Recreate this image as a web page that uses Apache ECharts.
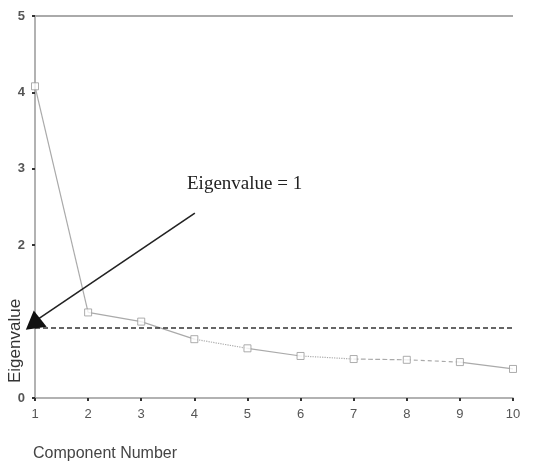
<!DOCTYPE html>
<html>
<head>
<meta charset="utf-8">
<script src="https://cdn.jsdelivr.net/npm/echarts@6/dist/echarts.min.js"></script>
<style>html,body{margin:0;padding:0;background:#fff}#c{width:533px;height:465px}</style>
</head>
<body>
<div id="c"></div>
<script>
// Data
var components = [1, 2, 3, 4, 5, 6, 7, 8, 9, 10];
var eigenvalues = [4.08, 1.12, 1.00, 0.77, 0.65, 0.55, 0.51, 0.50, 0.47, 0.38];
var segmentTypes = ['solid', 'solid', 'solid', 'dotted', 'solid', 'dotted', 'dashed', [4, 3], 'solid'];
var yTickLabels = ['0', '', '2', '3', '4', '5'];
var xTickLabels = ['1', '2', '3', '4', '5', '6', '7', '8', '9', '10'];
var cutoffLine = 0.92;
var arrowStart = [4.01, 2.42];
var arrowEnd = [1.05, 1.03];
var annotationText = 'Eigenvalue = 1';

var chart = echarts.init(document.getElementById('c'));
var series = [];
for (var i = 0; i < components.length - 1; i++) {
  series.push({
    type: 'line',
    data: [[components[i], eigenvalues[i]], [components[i + 1], eigenvalues[i + 1]]],
    showSymbol: false,
    symbol: 'none',
    lineStyle: { color: '#aaa', width: 1.2, type: segmentTypes[i] },
    silent: true,
    z: 2
  });
}
series.push({
  type: 'scatter',
  data: components.map(function (c, i) { return [c, eigenvalues[i]]; }),
  symbol: 'rect',
  symbolSize: 7,
  itemStyle: { color: '#fff', borderColor: '#999', borderWidth: 1 },
  z: 3,
  markLine: {
    silent: true,
    symbol: 'none',
    label: { show: false },
    data: [
      { yAxis: 5, lineStyle: { color: '#aaa', width: 2, type: 'solid' } },
      { yAxis: cutoffLine, lineStyle: { color: '#333', width: 1.5, type: [5, 3] } },
      [
        { coord: arrowStart, lineStyle: { color: '#222', width: 1.6, type: 'solid' } },
        { coord: arrowEnd }
      ]
    ]
  },
  markPoint: {
    silent: true,
    data: [{ coord: [1.0, 1.03], symbol: 'triangle', symbolSize: [21, 18], symbolRotate: 8, itemStyle: { color: '#111' }, label: { show: false } }]
  }
});

chart.setOption({
  animation: false,
  grid: { left: 35, right: 20, top: 16, bottom: 67 },
  xAxis: {
    type: 'value', min: 1, max: 10, interval: 1,
    axisLine: { lineStyle: { color: '#999', width: 1.5 } },
    axisTick: { show: true, length: 3, lineStyle: { color: '#333', width: 2 } },
    axisLabel: { color: '#555', fontFamily: 'Liberation Sans', fontSize: 13, margin: 10,
      formatter: function (v) { return xTickLabels[v - 1]; } },
    splitLine: { show: false }
  },
  yAxis: {
    type: 'value', min: 0, max: 5, interval: 1,
    axisLine: { show: true, lineStyle: { color: '#999', width: 1.5 } },
    axisTick: { show: true, length: 3, lineStyle: { color: '#333', width: 2 } },
    axisLabel: { color: '#555', fontFamily: 'Liberation Sans', fontSize: 13, fontWeight: 'bold', margin: 10,
      formatter: function (v) { return yTickLabels[v]; } },
    splitLine: { show: false }
  },
  graphic: [
    { type: 'text', left: 187, top: 175, style: { text: annotationText, font: '19px "Liberation Serif"', fill: '#222' } },
    { type: 'text', left: 33, top: 446, style: { text: 'Component Number', font: '16px "Liberation Sans"', fill: '#444' } },
    { type: 'text', x: 7, y: 383, rotation: Math.PI / 2, style: { text: 'Eigenvalue', font: '17px "Liberation Sans"', fill: '#333' } }
  ],
  series: series
});
</script>
</body>
</html>
